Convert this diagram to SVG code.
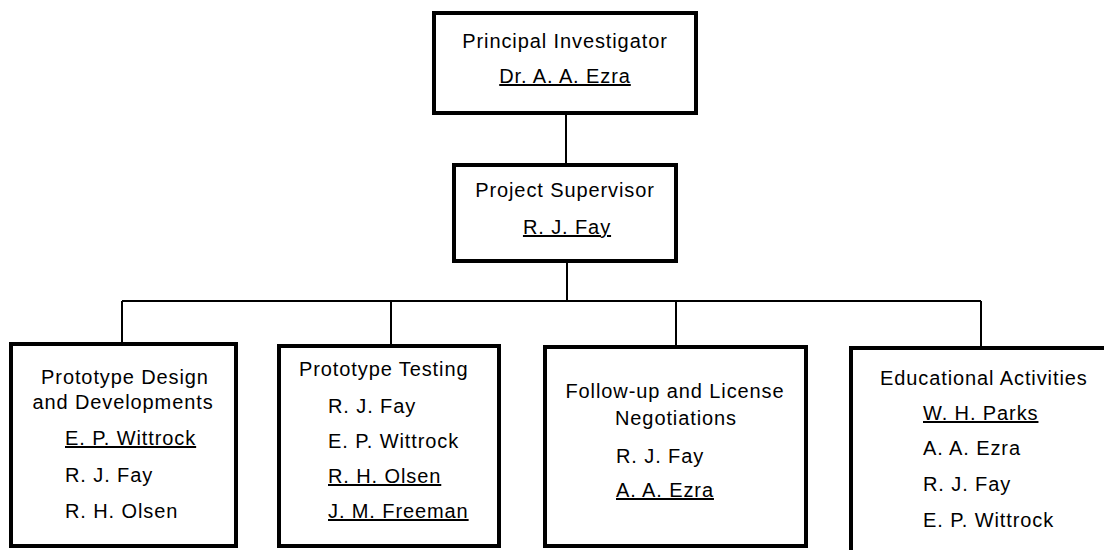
<svg xmlns="http://www.w3.org/2000/svg" width="1104" height="550" viewBox="0 0 1104 550">
<style>
.box{fill:#fff;stroke:#000;stroke-width:4}
.ln{stroke:#000;stroke-width:2;fill:none}
text{font-family:"Liberation Sans",Arial,sans-serif;font-size:20px;letter-spacing:0.9px;fill:#000}
.c{text-anchor:middle}
.u{text-decoration:underline}
</style>
<rect width="1104" height="550" fill="#fff"/>
<g id="connectors">
<path class="ln" d="M566,114V164M567,262V301M122,301H981M122,301V344M391,301V345M676,301V346M981,301V347"/>
</g>
<g id="principal">
<rect class="box" x="434" y="13" width="262" height="100"/>
<text class="c" x="565" y="48">Principal Investigator</text>
<text class="c u" x="565" y="83">Dr. A. A. Ezra</text>
</g>
<g id="supervisor">
<rect class="box" x="454" y="165" width="222" height="96"/>
<text class="c" x="565" y="197">Project Supervisor</text>
<text class="c u" x="567" y="234">R. J. Fay</text>
</g>
<g id="design">
<rect class="box" x="11" y="344" width="225" height="202"/>
<text class="c" x="125" y="384">Prototype Design</text>
<text class="c" x="123" y="409">and Developments</text>
<text class="u" x="65" y="445">E. P. Wittrock</text>
<text x="65" y="482">R. J. Fay</text>
<text x="65" y="518">R. H. Olsen</text>
</g>
<g id="testing">
<rect class="box" x="279" y="346" width="220" height="200"/>
<text x="299" y="376">Prototype Testing</text>
<text x="328" y="413">R. J. Fay</text>
<text x="328" y="448">E. P. Wittrock</text>
<text class="u" x="328" y="483">R. H. Olsen</text>
<text class="u" x="328" y="518">J. M. Freeman</text>
</g>
<g id="followup">
<rect class="box" x="545" y="347" width="261" height="199"/>
<text class="c" x="675" y="398">Follow-up and License</text>
<text class="c" x="676" y="425">Negotiations</text>
<text x="616" y="463">R. J. Fay</text>
<text class="u" x="616" y="497">A. A. Ezra</text>
</g>
<g id="educational">
<rect class="box" x="851" y="348" width="270" height="220"/>
<text x="880" y="385">Educational Activities</text>
<text class="u" x="923" y="420">W. H. Parks</text>
<text x="923" y="455">A. A. Ezra</text>
<text x="923" y="491">R. J. Fay</text>
<text x="923" y="527">E. P. Wittrock</text>
</g>
</svg>
